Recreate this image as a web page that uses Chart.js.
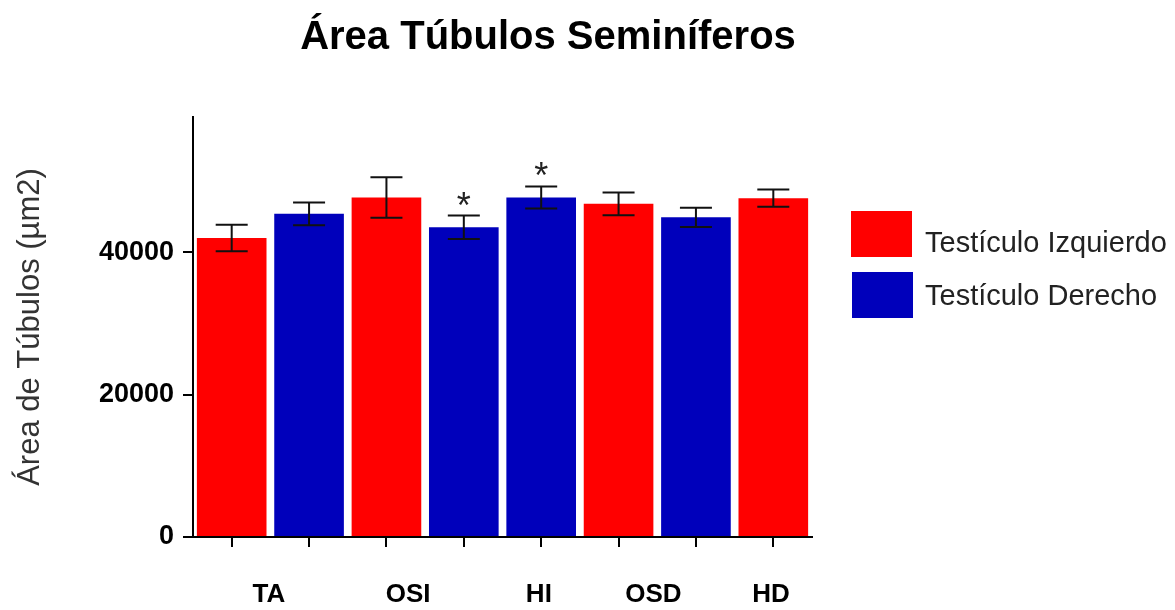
<!DOCTYPE html>
<html>
<head>
<meta charset="utf-8">
<script src="https://cdn.jsdelivr.net/npm/chart.js@4.4.0/dist/chart.umd.min.js"></script>
<style>
  body { margin: 0; background: #fff; }
  #wrap { width: 1175px; height: 610px; position: relative; }
</style>
</head>
<body>
<div id="wrap"><canvas id="chart"></canvas></div>
<script>
// ---------- Data ----------
const barNames = ["TA", "TA", "OSI", "OSI", "HI", "OSD", "OSD", "HD"];
const groupNames = ["TA", "OSI", "HI", "OSD", "HD"];
const izquierdo = [42000, null, 47700, null, null, 46800, null, 47600];
const derecho   = [null, 45400, null, 43500, 47700, null, 44900, null];
const semIzq    = [1850, null, 2850, null, null, 1600, null, 1200];
const semDer    = [null, 1600, null, 1650, 1550, null, 1350, null];
const significant = [false, false, false, true, true, false, false, false];
const yTicks = [0, 20000, 40000];

// where each group name sits, in bar-index units
const groupAnchor = [0.48, 2.28, 3.97, 5.45, 6.97];

const FONT = "'Liberation Sans', Arial, sans-serif";

// ---------- Error bars + asterisks ----------
const errorBars = {
  id: "errorBars",
  afterDatasetsDraw(chart) {
    const ctx = chart.ctx;
    const y = chart.scales.y;
    const sems = [semIzq, semDer];
    ctx.save();
    chart.data.datasets.forEach((ds, di) => {
      const meta = chart.getDatasetMeta(di);
      ds.data.forEach((v, i) => {
        if (v == null) return;
        const x = meta.data[i].x;
        const top = y.getPixelForValue(v + sems[di][i]);
        const bot = y.getPixelForValue(v - sems[di][i]);
        ctx.strokeStyle = "#111";
        ctx.lineWidth = 2;
        ctx.beginPath();
        ctx.moveTo(x, top); ctx.lineTo(x, bot);
        ctx.moveTo(x - 16, top); ctx.lineTo(x + 16, top);
        ctx.moveTo(x - 16, bot); ctx.lineTo(x + 16, bot);
        ctx.stroke();
        if (significant[i]) {
          ctx.fillStyle = "#222";
          ctx.font = "36px " + FONT;
          ctx.textAlign = "center";
          ctx.textBaseline = "alphabetic";
          ctx.fillText("*", x, top + 2);
        }
      });
    });
    ctx.restore();
  }
};

// ---------- Title, legend, group labels ----------
const decorations = {
  id: "decorations",
  afterDraw(chart) {
    const ctx = chart.ctx;
    ctx.save();
    ctx.fillStyle = "#000";
    ctx.textAlign = "center";
    ctx.textBaseline = "middle";
    ctx.font = "bold 40px " + FONT;
    ctx.fillText("Área Túbulos Seminíferos", 548, 38);

    ctx.font = "bold 26px " + FONT;
    groupNames.forEach((g, i) => {
      ctx.fillText(g, chart.scales.x.getPixelForValue(groupAnchor[i]), 595);
    });

    ctx.textAlign = "left";
    ctx.font = "29px " + FONT;
    chart.data.datasets.forEach((ds, i) => {
      ctx.fillStyle = ds.backgroundColor;
      ctx.fillRect(851 + i, 211 + i * 61, 61, 46);
      ctx.fillStyle = "#222";
      ctx.fillText(ds.label, 925, 244 + i * 53);
    });
    ctx.restore();
  }
};

new Chart(document.getElementById("chart"), {
  type: "bar",
  data: {
    labels: barNames,
    datasets: [
      { label: "Testículo Izquierdo", data: izquierdo, backgroundColor: "#ff0000" },
      { label: "Testículo Derecho", data: derecho, backgroundColor: "#0000bb" }
    ]
  },
  options: {
    responsive: true,
    maintainAspectRatio: false,
    animation: false,
    layout: { padding: { left: 0, top: 117, right: 363, bottom: 0 } },
    datasets: { bar: { categoryPercentage: 1, barPercentage: 0.9 } },
    plugins: {
      legend: { display: false },
      tooltip: { enabled: false }
    },
    scales: {
      x: {
        stacked: true,
        afterFit: s => { s.height = 73; },
        border: { color: "#000", width: 2 },
        grid: { offset: false, drawOnChartArea: false, drawTicks: true, tickLength: 10, color: "#000", lineWidth: 2 },
        ticks: { display: false }
      },
      y: {
        min: 0,
        max: 59000,
        afterFit: s => { s.width = 193; },
        afterBuildTicks: s => { s.ticks = yTicks.map(v => ({ value: v })); },
        border: { color: "#000", width: 2 },
        grid: { drawOnChartArea: false, drawTicks: true, tickLength: 10, color: "#000", lineWidth: 2 },
        ticks: {
          color: "#000",
          font: { family: FONT, size: 27, weight: "bold" },
          padding: 9,
          callback: v => String(v)
        },
        title: {
          display: true,
          text: "Área de Túbulos (µm2)",
          color: "#333",
          font: { family: FONT, size: 31 },
          padding: { top: 12, bottom: 0 }
        }
      }
    }
  },
  plugins: [errorBars, decorations]
});
</script>
</body>
</html>
